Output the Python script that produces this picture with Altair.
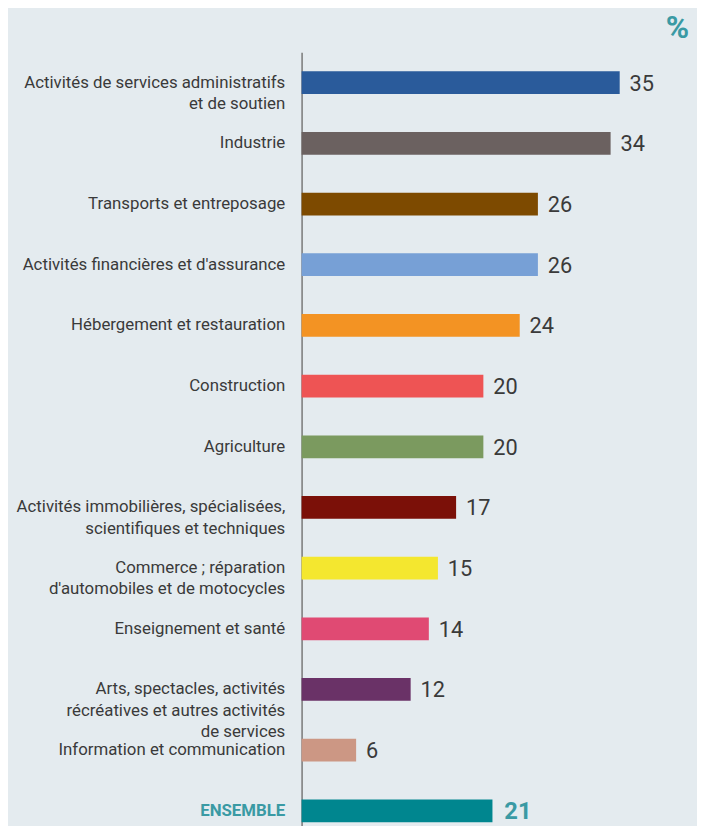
import altair as alt
import pandas as pd

categories = [
    "Activités de services administratifs|et de soutien",
    "Industrie",
    "Transports et entreposage",
    "Activités financières et d'assurance",
    "Hébergement et restauration",
    "Construction",
    "Agriculture",
    "Activités immobilières, spécialisées,|scientifiques et techniques",
    "Commerce ; réparation|d'automobiles et de motocycles",
    "Enseignement et santé",
    "Arts, spectacles, activités|récréatives et autres activités|de services",
    "Information et communication",
    "ENSEMBLE",
]
values = [35, 34, 26, 26, 24, 20, 20, 17, 15, 14, 12, 6, 21]
colors = ["#2a5b9b", "#6b6160", "#7d4a00", "#77a0d6", "#f39323", "#ee5454",
          "#7b9a5f", "#7b1008", "#f4e72f", "#e04a73", "#6a3267", "#cc9784",
          "#00868f"]

df = pd.DataFrame({"cat": categories, "val": values, "color": colors})
df["total"] = df["cat"] == "ENSEMBLE"

TEAL = "#3a9aa4"
FONT = "Roboto"

y = alt.Y("cat:N", sort=categories, title=None,
          scale=alt.Scale(paddingInner=0, paddingOuter=0),
          axis=alt.Axis(
              labelExpr="split(datum.label, '|')",
              labelFont=FONT, labelFontSize=17, labelLineHeight=21.5,
              labelColor=alt.expr(f"datum.value == 'ENSEMBLE' ? '{TEAL}' : '#3a3a3a'"),
              labelFontWeight=alt.expr("datum.value == 'ENSEMBLE' ? 'bold' : 'normal'"),
              labelPadding=17, labelLimit=400, ticks=False,
              domainColor="#777777", domainWidth=1.5))
x = alt.X("val:Q", title=None, scale=alt.Scale(domain=[0, 42.2], nice=False),
          axis=None)

base = alt.Chart(df)

bars = base.mark_bar(size=23).encode(
    y=y, x=x, color=alt.Color("color:N", scale=None))

labels = base.transform_filter("!datum.total").mark_text(
    align="left", baseline="middle", dx=10, dy=1, font=FONT, fontSize=22,
    color="#3a3a3a").encode(y=y, x=x, text=alt.Text("val:Q"))

labels_total = base.transform_filter("datum.total").mark_text(
    align="left", baseline="middle", dx=12, dy=1, font=FONT, fontSize=24,
    fontWeight="bold", color=TEAL).encode(y=y, x=x, text=alt.Text("val:Q"))

chart = (bars + labels + labels_total).properties(
    width=388, height=798,
    background="#e4ebef",
    autosize=alt.AutoSizeParams(type="none"),
    padding={"left": 297, "top": 40, "right": 12, "bottom": 0},
    title=alt.TitleParams("%", anchor="end", fontSize=32, font=FONT,
                          fontWeight="bold", color=TEAL, offset=8, dx=4),
).configure_view(stroke=None)

chart.save("out.html", embed_options={"renderer": "svg", "actions": False})
